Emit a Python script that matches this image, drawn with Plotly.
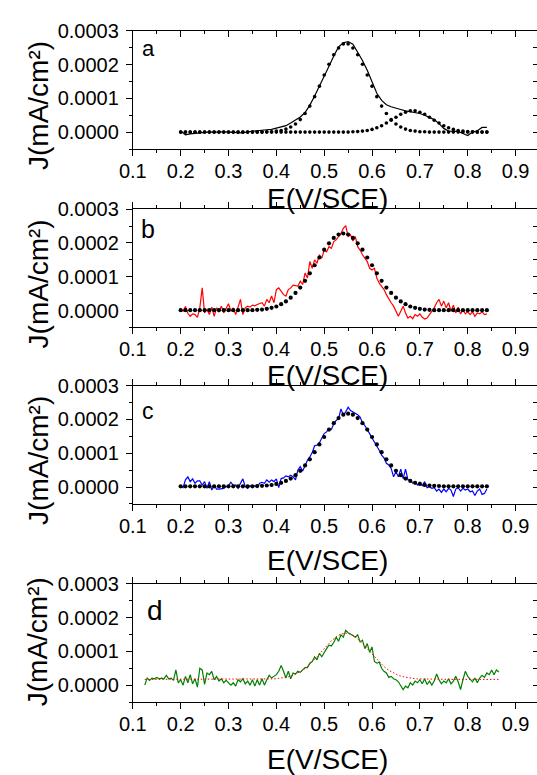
import plotly.graph_objects as go

# ---------------- data (J values in 1e-6 mA/cm2) ----------------
E_fit = [0.20, 0.21, 0.22, 0.23, 0.24, 0.25, 0.26, 0.27, 0.28, 0.29,
         0.30, 0.31, 0.32, 0.33, 0.34, 0.35, 0.36, 0.37, 0.38, 0.39,
         0.40, 0.41, 0.42, 0.43, 0.44, 0.45, 0.46, 0.47, 0.48, 0.49,
         0.50, 0.51, 0.52, 0.53, 0.54, 0.55, 0.56, 0.57, 0.58, 0.59,
         0.60, 0.61, 0.62, 0.63, 0.64, 0.65, 0.66, 0.67, 0.68, 0.69,
         0.70, 0.71, 0.72, 0.73, 0.74, 0.75, 0.76, 0.77, 0.78, 0.79,
         0.80, 0.81, 0.82, 0.83, 0.84]

# panel a : measured (solid) and two fitted peaks (dots)
J_a = [3, -8, -5, -3, -2, -1, 0, -1, 0, 1,
       0, 1, -1, -2, 1, 3, 4, 5, 7, 8,
       11, 15, 19, 27, 36, 45, 58, 80, 107, 135,
       165, 195, 225, 252, 264, 268, 260, 238, 212, 183,
       148, 115, 94, 81, 75, 70, 67, 63, 61, 58,
       55, 50, 44, 37, 25, 11, 3, 2, 2, -4,
       -10, 0, 4, 14, 14]
F1_a = [0, 0, 0, 0, 0, 0, 0, 0, 0, 0,
        0, 0, 0, 0, 0, 0, 0, 0, 1, 1,
        3, 5, 9, 15, 24, 37, 55, 77, 105, 136,
        169, 201, 229, 249, 261, 261, 249, 229, 201, 169,
        136, 105, 77, 55, 37, 24, 15, 9, 5, 3,
        1, 1, 0, 0, 0, 0, 0, 0, 0, 0,
        0, 0, 0, 0, 0]
F2_a = [0, 0, 0, 0, 0, 0, 0, 0, 0, 0,
        0, 0, 0, 0, 0, 0, 0, 0, 0, 0,
        0, 0, 0, 0, 0, 0, 0, 0, 0, 0,
        0, 0, 0, 0, 0, 0, 1, 1.5, 3, 5,
        8, 13, 19, 27, 35, 44, 53, 59, 63, 63,
        59, 53, 44, 35, 27, 19, 13, 8, 5, 3,
        1.5, 1, 0, 0, 0]

E_bc = [0.200, 0.205, 0.210, 0.215, 0.220, 0.225, 0.230, 0.235, 0.240, 0.245,
        0.250, 0.255, 0.260, 0.265, 0.270, 0.275, 0.280, 0.285, 0.290, 0.295,
        0.300, 0.305, 0.310, 0.315, 0.320, 0.325, 0.330, 0.335, 0.340, 0.345,
        0.350, 0.355, 0.360, 0.365, 0.370, 0.375, 0.380, 0.385, 0.390, 0.395,
        0.400, 0.405, 0.410, 0.415, 0.420, 0.425, 0.430, 0.435, 0.440, 0.445,
        0.450, 0.455, 0.460, 0.465, 0.470, 0.475, 0.480, 0.485, 0.490, 0.495,
        0.500, 0.505, 0.510, 0.515, 0.520, 0.525, 0.530, 0.535, 0.540, 0.545,
        0.550, 0.555, 0.560, 0.565, 0.570, 0.575, 0.580, 0.585, 0.590, 0.595,
        0.600, 0.605, 0.610, 0.615, 0.620, 0.625, 0.630, 0.635, 0.640, 0.645,
        0.650, 0.655, 0.660, 0.665, 0.670, 0.675, 0.680, 0.685, 0.690, 0.695,
        0.700, 0.705, 0.710, 0.715, 0.720, 0.725, 0.730, 0.735, 0.740, 0.745,
        0.750, 0.755, 0.760, 0.765, 0.770, 0.775, 0.780, 0.785, 0.790, 0.795,
        0.800, 0.805, 0.810, 0.815, 0.820, 0.825, 0.830, 0.835, 0.840]

# panel b : measured (red) and fit (dots)
J_b = [3, -2, 12, -8, -17, -10, -12, -20, 8, 67,
       -7, 3, -12, 10, -17, 8, -4, 13, -7, 8,
       20, -2, 8, -12, 8, 33, -12, 8, 13, 10,
       16, 14, 18, 20, 23, 13, 33, 23, 43, 23,
       62, 67, 57, 47, 43, 62, 67, 75, 74, 72,
       87, 77, 111, 96, 145, 125, 150, 140, 165, 155,
       179, 174, 189, 184, 204, 209, 219, 228, 243, 251,
       219, 224, 206, 219, 189, 179, 165, 155, 145, 125,
       120, 125, 96, 81, 72, 62, 47, 33, 23, 13,
       -2, -17, -2, 13, -7, -22, -17, -24, -12, -17,
       -10, -20, -25, -22, -12, -2, 8, 23, 33, 13,
       28, 8, 23, -2, 16, -7, 10, -10, 3, -10,
       -4, -12, -4, -17, -7, -10, -4, -12, -10]
F_b = [1, 1, 1, 1, 1, 1, 1, 1, 1, 1,
       1, 1, 1, 1, 1, 1, 2, 3, 5, 8,
       12, 19, 27, 38, 52, 68, 88, 110, 134, 157,
       180, 199, 215, 225, 228, 225, 215, 199, 180, 157,
       134, 110, 88, 68, 52, 38, 27, 19, 12, 8,
       5, 3, 2, 1, 1, 1, 1, 1, 1, 1,
       1, 1, 1, 1, 1]

# panel c : measured (blue) and fit (dots)
J_c = [1, -2, 21, 30, 16, 24, 11, 18, 18, 6,
       16, -4, 16, -9, 6, -6, -6, -6, -4, 1,
       4, 14, 4, 6, -4, 11, 24, 1, -4, 4,
       1, 4, -2, 11, 14, 11, 21, 14, 21, 16,
       24, -2, 25, 27, 33, 30, 35, 30, 21, 50,
       60, 47, 65, 79, 89, 102, 122, 124, 131, 143,
       158, 163, 173, 170, 187, 197, 202, 231, 212, 222,
       236, 226, 222, 217, 214, 207, 190, 182, 168, 158,
       145, 133, 124, 109, 94, 86, 70, 65, 55, 30,
       45, 30, 53, 25, 53, 21, 21, 11, 16, 6,
       14, 4, 16, -2, 1, -4, -2, -12, -6, -16,
       -6, -14, -4, -9, -28, -6, -2, -12, -4, -9,
       -6, -14, -12, -25, -12, -6, -22, -19, -6]
F_c = [2, 2, 2, 2, 2, 2, 2, 2, 2, 2,
       2, 2, 2, 2, 2, 2, 3, 3.5, 4.5, 6,
       9, 12.5, 18, 25, 35, 48, 64, 82, 103, 126,
       148, 170, 189, 204, 214, 217, 214, 204, 189, 170,
       148, 126, 103, 82, 64, 48, 35, 25, 18, 12.5,
       9, 6, 4.5, 3.5, 3, 2, 2, 2, 2, 2,
       2, 2, 2, 2, 2]

# panel d : measured (green) and fit (red dotted)
E_d = [0.125, 0.130, 0.135, 0.140, 0.145, 0.150, 0.155, 0.160, 0.165, 0.170,
       0.175, 0.180, 0.185, 0.190, 0.195, 0.200, 0.205, 0.210, 0.215, 0.220,
       0.225, 0.230, 0.235, 0.240, 0.245, 0.250, 0.255, 0.260, 0.265, 0.270,
       0.275, 0.280, 0.285, 0.290, 0.295, 0.300, 0.305, 0.310, 0.315, 0.320,
       0.325, 0.330, 0.335, 0.340, 0.345, 0.350, 0.355, 0.360, 0.365, 0.370,
       0.375, 0.380, 0.385, 0.390, 0.395, 0.400, 0.405, 0.410, 0.415, 0.420,
       0.425, 0.430, 0.435, 0.440, 0.445, 0.450, 0.455, 0.460, 0.465, 0.470,
       0.475, 0.480, 0.485, 0.490, 0.495, 0.500, 0.505, 0.510, 0.515, 0.520,
       0.525, 0.530, 0.535, 0.540, 0.545, 0.550, 0.555, 0.560, 0.565, 0.570,
       0.575, 0.580, 0.585, 0.590, 0.595, 0.600, 0.605, 0.610, 0.615, 0.620,
       0.625, 0.630, 0.635, 0.640, 0.645, 0.650, 0.655, 0.660, 0.665, 0.670,
       0.675, 0.680, 0.685, 0.690, 0.695, 0.700, 0.705, 0.710, 0.715, 0.720,
       0.725, 0.730, 0.735, 0.740, 0.745, 0.750, 0.755, 0.760, 0.765, 0.770,
       0.775, 0.780, 0.785, 0.790, 0.795, 0.800, 0.805, 0.810, 0.815, 0.820,
       0.825, 0.830, 0.835, 0.840, 0.845, 0.850, 0.855, 0.860, 0.865]
J_d = [0, 21, 14, 21, 19, 23, 19, 21, 19, 29,
       19, 21, 14, 45, 7, 16, 0, 26, 7, 31,
       4, 19, -6, 50, 45, 2, 36, 31, 41, 16,
       26, 12, 19, 7, 14, 7, 0, 7, -3, 16,
       10, 19, 4, 12, 0, 16, -3, 16, 0, 19,
       0, 16, 29, 21, 26, 31, 41, 58, 41, 21,
       41, 19, 36, 33, 41, 38, 45, 52, 52, 65,
       70, 84, 75, 94, 84, 97, 108, 118, 116, 126,
       142, 130, 149, 142, 162, 155, 152, 147, 142, 149,
       128, 133, 108, 123, 97, 113, 70, 65, 68, 50,
       41, 36, 23, 26, 19, 16, 10, -3, -13, -3,
       -8, 7, 0, 12, 7, 16, 4, 19, 2, 12,
       0, 12, 33, 16, 4, 12, 7, 19, 4, 12,
       26, 10, -13, 16, 41, 26, 19, 10, 21, 7,
       21, 29, 23, 36, 31, 45, 31, 45, 39]
E_dfit = [0.125, 0.135, 0.145, 0.155, 0.165, 0.175, 0.185, 0.195, 0.205, 0.215,
          0.225, 0.235, 0.245, 0.255, 0.265, 0.275, 0.285, 0.295, 0.305, 0.315,
          0.325, 0.335, 0.345, 0.355, 0.365, 0.375, 0.385, 0.395, 0.405, 0.415,
          0.425, 0.435, 0.445, 0.455, 0.465, 0.475, 0.485, 0.495, 0.505, 0.515,
          0.525, 0.535, 0.545, 0.555, 0.565, 0.575, 0.585, 0.595, 0.605, 0.615,
          0.625, 0.635, 0.645, 0.655, 0.665, 0.675, 0.685, 0.695, 0.705, 0.715,
          0.725, 0.735, 0.745, 0.755, 0.765, 0.775, 0.785, 0.795, 0.805, 0.815,
          0.825, 0.835, 0.845, 0.855, 0.865]
F_d = [17, 17, 17, 17, 17, 17, 17, 17, 17, 17,
       17, 17, 17, 17, 17, 17, 17, 17, 17, 17,
       17, 17, 17, 17, 17, 17.5, 18, 18.5, 20, 22,
       25, 29, 36, 44, 55, 68, 84, 100, 117, 131,
       143, 151, 154, 151, 143, 131, 117, 100, 84, 68,
       55, 44, 36, 29, 25, 22, 20, 18.5, 18, 17.5,
       17, 17, 17, 17, 17, 17, 17, 17, 17, 17,
       17, 17, 17, 17, 17]

X_TICKS = [0.1, 0.2, 0.3, 0.4, 0.5, 0.6, 0.7, 0.8, 0.9]
Y_TICKS = [0.0, 0.0001, 0.0002, 0.0003]
X_TITLE = "E(V/SCE)"
Y_TITLE = "J(mA/cm²)"
LABELS = ["a", "b", "c", "d"]

U = 1e-6  # unit of the J lists above


def sc(v):
    return [x * U for x in v]


# ---------------- layout geometry (pixels) ----------------
W, H = 537, 775
FONT = "Liberation Sans, Arial, sans-serif"
XL = 122                      # left frame
X_RANGE = [0.1, 0.9448]
Y_RANGE = [-0.00005, 0.0003]
PH = 120                      # panel height
panel_top = [20, 201, 380, 581]
top_dir = ["inside", "outside", "outside", "outside"]
xtitle_c = [190, 370, 557, 759]
ytitle_c = [96, 277, 456, 640]
lab_pos = [(129, 38, 22), (128, 221, 25), (129, 406, 23), (135, 608, 28)]


def py(p):
    return 1 - p / H


fig = go.Figure()

BLACK = "#000000"
dots = dict(mode="markers", marker=dict(color=BLACK, size=3.6), showlegend=False,
            hoverinfo="skip")

# panel a
fig.add_trace(go.Scatter(x=E_fit, y=sc(J_a), mode="lines", line=dict(color=BLACK, width=1.2),
                         showlegend=False, xaxis="x", yaxis="y"))
fig.add_trace(go.Scatter(x=E_fit, y=sc(F1_a), xaxis="x", yaxis="y", **dots))
fig.add_trace(go.Scatter(x=E_fit, y=sc(F2_a), xaxis="x", yaxis="y", **dots))
# panel b
fig.add_trace(go.Scatter(x=E_bc, y=sc(J_b), mode="lines", line=dict(color="#ff0000", width=1.2),
                         showlegend=False, xaxis="x2", yaxis="y2"))
fig.add_trace(go.Scatter(x=E_fit, y=sc(F_b), xaxis="x2", yaxis="y2",
                         **{**dots, "marker": dict(color=BLACK, size=4.2)}))
# panel c
fig.add_trace(go.Scatter(x=E_bc, y=sc(J_c), mode="lines", line=dict(color="#0000ff", width=1.2),
                         showlegend=False, xaxis="x3", yaxis="y3"))
fig.add_trace(go.Scatter(x=E_fit, y=sc(F_c), xaxis="x3", yaxis="y3",
                         **{**dots, "marker": dict(color=BLACK, size=4.2)}))
# panel d
fig.add_trace(go.Scatter(x=E_d, y=sc(J_d), mode="lines", line=dict(color="#008000", width=1.2),
                         showlegend=False, xaxis="x4", yaxis="y4"))
fig.add_trace(go.Scatter(x=E_dfit, y=sc(F_d), mode="lines",
                         line=dict(color="#ff0000", width=1, dash="1.5px,2px"),
                         showlegend=False, xaxis="x4", yaxis="y4"))

tickfont = dict(family=FONT, size=20, color=BLACK)
layout = dict(width=W, height=H, margin=dict(l=0, r=0, t=0, b=0), autosize=False,
              paper_bgcolor="white", plot_bgcolor="white", showlegend=False,
              font=dict(family=FONT, color=BLACK))
annotations = []

for i in range(4):
    k = i + 1
    ko = i + 5
    top = panel_top[i]
    dom_y = [py(top + PH), py(top)]
    sx = "" if k == 1 else str(k)
    layout["xaxis" + sx] = dict(
        domain=[XL / W, 1], range=X_RANGE, anchor="y" + sx,
        showline=True, linecolor=BLACK, linewidth=1, mirror=False,
        ticks="outside", ticklen=6, tickwidth=1, tickcolor=BLACK,
        tickvals=X_TICKS, tickformat=".1f", tickfont=tickfont, ticklabelstandoff=-2,
        minor=dict(ticks="outside", ticklen=3, tickwidth=1, tickcolor=BLACK,
                   dtick=0.05, tick0=0.1, showgrid=False),
        showgrid=False, zeroline=False, fixedrange=True)
    layout["yaxis" + sx] = dict(
        domain=dom_y, range=Y_RANGE, anchor="x" + sx,
        showline=True, linecolor=BLACK, linewidth=1, mirror=False,
        ticks="outside", ticklen=6, tickwidth=1, tickcolor=BLACK,
        tickvals=Y_TICKS, tickformat=".4f", tickfont=tickfont, ticklabelstandoff=3,
        minor=dict(ticks="outside", ticklen=3, tickwidth=1, tickcolor=BLACK,
                   dtick=0.00005, tick0=0, showgrid=False),
        showgrid=False, zeroline=False, fixedrange=True)
    # overlay axes: top frame with ticks, right-hand tick stubs
    layout["xaxis%d" % ko] = dict(
        overlaying="x" + sx, side="top", range=X_RANGE, anchor="y%d" % ko,
        showline=True, linecolor=BLACK, linewidth=1,
        ticks=top_dir[i], ticklen=6, tickwidth=1, tickcolor=BLACK,
        tickvals=X_TICKS, showticklabels=False,
        minor=dict(ticks=top_dir[i], ticklen=3, tickwidth=1, tickcolor=BLACK,
                   dtick=0.05, tick0=0.1, showgrid=False),
        showgrid=False, zeroline=False, fixedrange=True)
    layout["yaxis%d" % ko] = dict(
        overlaying="y" + sx, side="right", range=Y_RANGE, anchor="x%d" % ko,
        showline=False, ticks="inside", ticklen=4, tickwidth=1, tickcolor=BLACK,
        tickvals=Y_TICKS, showticklabels=False,
        minor=dict(ticks="inside", ticklen=4, tickwidth=1, tickcolor=BLACK,
                   dtick=0.00005, tick0=0, showgrid=False),
        showgrid=False, zeroline=False, fixedrange=True)
    fig.add_trace(go.Scatter(x=[None], y=[None], xaxis="x%d" % ko, yaxis="y%d" % ko,
                             showlegend=False, hoverinfo="skip"))

    annotations.append(dict(text=X_TITLE, x=322 / W, y=py(xtitle_c[i]), xref="paper",
                            yref="paper", xanchor="center", yanchor="middle",
                            showarrow=False, font=dict(family=FONT, size=28, color=BLACK)))
    annotations.append(dict(text=Y_TITLE, x=25 / W, y=py(ytitle_c[i]), xref="paper",
                            yref="paper", xanchor="center", yanchor="middle", textangle=-90,
                            showarrow=False, font=dict(family=FONT, size=28, color=BLACK)))
    lx, ly, ls = lab_pos[i]
    annotations.append(dict(text=LABELS[i], x=lx / W, y=py(ly), xref="paper", yref="paper",
                            xanchor="left", yanchor="middle", showarrow=False,
                            font=dict(family=FONT, size=ls, color=BLACK)))

layout["annotations"] = annotations
fig.update_layout(**layout)

fig.write_html("out.html", config={"displayModeBar": False})
